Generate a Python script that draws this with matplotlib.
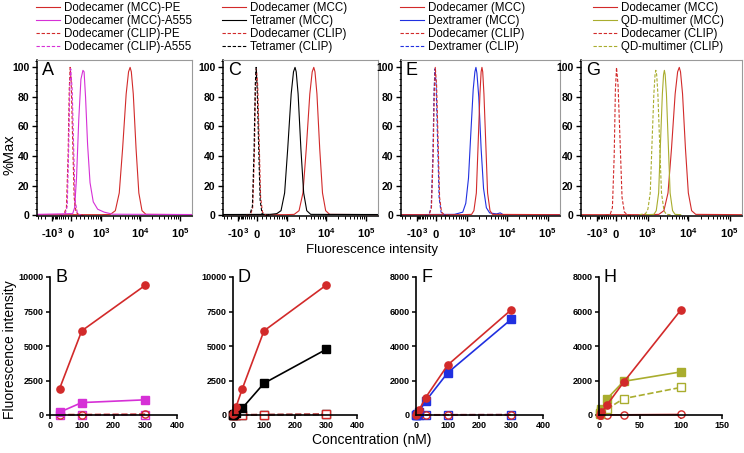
import numpy as np
import matplotlib
matplotlib.use('Agg')
import matplotlib.pyplot as plt
from matplotlib.ticker import FixedLocator, AutoMinorLocator

plt.rcParams['font.family'] = ['Liberation Sans', 'DejaVu Sans']
plt.rcParams['mathtext.fontset'] = 'custom'
plt.rcParams['mathtext.rm'] = 'Liberation Sans'
plt.rcParams['mathtext.bf'] = 'Liberation Sans:bold'

RED = '#d22a2a'
MAG = '#d630d6'
BLUE = '#2030e0'
OLIVE = '#a9ad2e'
BLACK = '#000000'

# ---------------- histogram data (fluorescence, %Max) ----------------
XLO, XHI = -4560, 200000

# A
a_pe_mcc_x = [XLO, 1000, 1740, 2320, 2920, 3550, 4370, 5020, 5500, 5900, 6610, 7770, 9130, 10970, 13800, XHI]
a_pe_mcc_y = [0.3, 0.3, 0.5, 3, 15, 45, 82, 97, 100, 97, 82, 45, 15, 3, 0.5, 0.3]
a_a555_mcc_x = [XLO, 40, 80, 120, 170, 220, 270, 300, 340, 400, 480, 600, 800, 1200, 2000, XHI]
a_a555_mcc_y = [0.5, 1, 5, 25, 65, 92, 98, 97, 80, 48, 22, 9, 4, 2, 0.6, 0.4]
a_pe_clip_x = [-400, -250, -150, -90, -50, -20, 10, 40, 70, 110, 180, 300]
a_pe_clip_y = [0, 0.5, 5, 40, 85, 100, 90, 50, 12, 2, 0, 0]
a_a555_clip_x = [-400, -200, -120, -70, -30, 0, 30, 60, 90, 140, 220, 300]
a_a555_clip_y = [0, 0.5, 6, 45, 88, 99, 85, 45, 10, 1, 0, 0]

# C
c_dod_mcc_x = [XLO, 900, 1520, 2030, 2550, 3100, 3810, 4380, 4800, 5150, 5770, 6780, 7970, 9580, 12060, XHI]
c_dod_mcc_y = [0.3, 0.3, 0.5, 3, 15, 45, 82, 97, 100, 97, 82, 45, 15, 3, 0.5, 0.3]
c_tet_mcc_x = [XLO, 300, 506, 675, 850, 1030, 1270, 1460, 1600, 1715, 1920, 2260, 2660, 3190, 4020, XHI]
c_tet_mcc_y = [0.4, 0.5, 1, 3, 15, 45, 82, 97, 100, 97, 82, 45, 15, 3, 0.5, 0.4]
c_dod_clip_x = [-400, -220, -140, -80, -40, -10, 20, 50, 80, 120, 190, 300]
c_dod_clip_y = [0, 0.5, 5, 40, 85, 99, 88, 50, 12, 2, 0, 0]
c_tet_clip_x = [-400, -250, -150, -90, -50, -20, 10, 40, 70, 110, 180, 300]
c_tet_clip_y = [0, 0.5, 6, 45, 88, 100, 85, 45, 10, 1, 0, 0]

# E
e_dod_mcc_x = [XLO, 800, 1320, 1510, 1740, 1910, 2140, 2290, 2400, 2510, 2690, 3020, 3310, 3800, 4370, XHI]
e_dod_mcc_y = [0.3, 0.3, 0.5, 3, 15, 45, 82, 97, 100, 97, 82, 45, 15, 3, 0.5, 0.3]
e_dex_mcc_x = [XLO, 450, 777, 935, 1100, 1260, 1450, 1600, 1700, 1800, 2000, 2290, 2630, 3090, 3720, 5500, 6800, 8000, XHI]
e_dex_mcc_y = [0.3, 0.5, 2, 8, 25, 55, 85, 97, 100, 96, 80, 45, 18, 5, 1.5, 0.8, 1.5, 0.3, 0.3]
e_dod_clip_x = [-400, -220, -140, -80, -40, -10, 20, 50, 80, 120, 190, 300]
e_dod_clip_y = [0, 0.5, 5, 40, 85, 100, 88, 50, 12, 2, 0, 0]
e_dex_clip_x = [-400, -230, -150, -90, -50, -20, 10, 40, 70, 110, 180, 300]
e_dex_clip_y = [0, 0.5, 5, 40, 85, 99, 88, 50, 12, 2, 0, 0]

# G
g_dod_mcc_x = [XLO, 1100, 1900, 2530, 3190, 3880, 4760, 5470, 6000, 6430, 7210, 8480, 9960, 11970, 15070, XHI]
g_dod_mcc_y = [0.3, 0.3, 0.5, 3, 15, 45, 82, 97, 100, 97, 82, 45, 15, 3, 0.5, 0.3]
g_qd_mcc_x = [900, 1430, 1640, 1880, 2060, 2320, 2480, 2600, 2720, 2920, 3270, 3590, 4120, 4730, 6500]
g_qd_mcc_y = [0.3, 0.5, 3, 15, 45, 82, 95, 98, 95, 82, 45, 15, 3, 0.5, 0.3]
g_dod_clip_x = [-400, -200, -120, -60, -20, 10, 40, 80, 120, 170, 250, 400]
g_dod_clip_y = [0, 0.5, 5, 40, 85, 100, 88, 50, 12, 2, 0, 0]
g_qd_clip_x = [600, 880, 1010, 1160, 1270, 1430, 1530, 1600, 1680, 1800, 2010, 2210, 2540, 2910, 3800]
g_qd_clip_y = [0.3, 1, 4, 15, 45, 82, 95, 98, 95, 82, 45, 15, 3, 0.5, 0.3]

hist_xticks = [-1000, 0, 1000, 10000, 100000]
hist_xticklabels = [r'-10$^\mathbf{3}$', '0', r'10$^\mathbf{3}$',
                    r'10$^\mathbf{4}$', r'10$^\mathbf{5}$']

# ---------------- titration data (nM, fluorescence) ----------------
b_conc = [30, 100, 300]
b_pe_mcc = [1900, 6100, 9400]
b_a555_mcc = [200, 900, 1100]
b_pe_clip = [30, 30, 60]
b_a555_clip = [10, 10, 20]

conc = [1, 3, 10, 30, 100, 300]
d_dod_mcc = [40, 150, 600, 1900, 6100, 9400]
d_tet_mcc = [10, 40, 150, 500, 2300, 4750]
d_dod_clip = [0, 0, 10, 20, 30, 60]
d_tet_clip = [0, 0, 5, 10, 20, 40]

f_dod_mcc = [20, 100, 300, 1000, 2900, 6100]
f_dex_mcc = [10, 50, 200, 800, 2450, 5550]
f_dod_clip = [0, 0, 0, 10, 15, 20]
f_dex_clip = [0, 0, 0, 5, 10, 15]

h_conc = [1, 3, 10, 30, 100]
h_dod_mcc = [20, 150, 600, 1900, 6100]
h_qd_mcc = [100, 350, 950, 1950, 2500]
h_dod_clip = [0, 0, 10, 10, 30]
h_qd_clip = [80, 250, 350, 950, 1600]

# ---------------- scale ----------------
CW = 350.0
NEG = 0.6


def fwd(x):
    x = np.asarray(x, dtype=float)
    y = np.arcsinh(x / CW)
    return np.where(x < 0, y * NEG, y)


def inv(y):
    y = np.asarray(y, dtype=float)
    return np.where(y < 0, CW * np.sinh(y / NEG), CW * np.sinh(y))


minor = []
for dec in [100, 1000, 10000, 100000]:
    for m in range(2, 10):
        v = m * dec
        if v < XHI:
            minor.append(v)
for v in [100, 200, 300, 400, 500, 600, 700, 800, 900, 2000, 3000, 4000]:
    minor.append(-v)
minor.append(100)

W, H = 744.0, 453.0


def fig_rect(x0, x1, ytop, ybot):
    return [x0 / W, 1 - ybot / H, (x1 - x0) / W, (ybot - ytop) / H]


fig = plt.figure(figsize=(7.44, 4.53), dpi=100)

hist_boxes = [(37, 192), (223, 378), (401, 560), (581, 742)]
hist_letters = ['A', 'C', 'E', 'G']


def hist_axes(i):
    x0, x1 = hist_boxes[i]
    ax = fig.add_axes(fig_rect(x0, x1, 60, 216))
    ax.set_xscale('function', functions=(fwd, inv))
    ax.set_xlim(XLO, XHI)
    ax.set_ylim(-0.6, 105)
    ax.xaxis.set_major_locator(FixedLocator(hist_xticks))
    ax.set_xticklabels(hist_xticklabels, fontweight='bold')
    for lbl in ax.get_xticklabels():
        lbl.set_verticalalignment('baseline')
    ax.xaxis.set_minor_locator(FixedLocator(minor))
    ax.set_yticks([0, 20, 40, 60, 80, 100])
    ax.set_yticklabels(['0', '20', '40', '60', '80', '100'], fontweight='bold')
    ax.yaxis.set_minor_locator(AutoMinorLocator(5))
    ax.tick_params(axis='both', which='major', direction='out', length=3.5, width=1,
                   labelsize=7.5, pad=2)
    ax.tick_params(axis='x', which='major', pad=12.5, labelsize=8)
    ax.tick_params(axis='both', which='minor', direction='out', length=1.8, width=0.7)
    for s in ['top', 'right']:
        ax.spines[s].set_color('#9a9a9a')
        ax.spines[s].set_linewidth(0.8)
    for s in ['left', 'bottom']:
        ax.spines[s].set_linewidth(1.1)
    ax.text(0.03, 0.935, hist_letters[i], transform=ax.transAxes, fontsize=13,
            ha='left', va='center')
    return ax


lw = 0.8
dash = (0, (3, 1.6))

# A
ax = hist_axes(0)
l1, = ax.plot(a_pe_mcc_x, a_pe_mcc_y, color=RED, lw=lw, label='Dodecamer (MCC)-PE')
l2, = ax.plot(a_a555_mcc_x, a_a555_mcc_y, color=MAG, lw=lw, label='Dodecamer (MCC)-A555')
l3, = ax.plot(a_pe_clip_x, a_pe_clip_y, color=RED, lw=lw, ls=dash, label='Dodecamer (CLIP)-PE')
l4, = ax.plot(a_a555_clip_x, a_a555_clip_y, color=MAG, lw=lw, ls=dash, label='Dodecamer (CLIP)-A555')
legA = [l1, l2, l3, l4]

# C
ax = hist_axes(1)
l1, = ax.plot(c_dod_mcc_x, c_dod_mcc_y, color=RED, lw=lw, label='Dodecamer (MCC)')
l2, = ax.plot(c_tet_mcc_x, c_tet_mcc_y, color=BLACK, lw=lw, label='Tetramer (MCC)')
l3, = ax.plot(c_dod_clip_x, c_dod_clip_y, color=RED, lw=lw, ls=dash, label='Dodecamer (CLIP)')
l4, = ax.plot(c_tet_clip_x, c_tet_clip_y, color=BLACK, lw=lw, ls=dash, label='Tetramer (CLIP)')
legC = [l1, l2, l3, l4]

# E
ax = hist_axes(2)
l2, = ax.plot(e_dex_mcc_x, e_dex_mcc_y, color=BLUE, lw=lw, label='Dextramer (MCC)')
l1, = ax.plot(e_dod_mcc_x, e_dod_mcc_y, color=RED, lw=lw, label='Dodecamer (MCC)')
l4, = ax.plot(e_dex_clip_x, e_dex_clip_y, color=BLUE, lw=lw, ls=dash, label='Dextramer (CLIP)')
l3, = ax.plot(e_dod_clip_x, e_dod_clip_y, color=RED, lw=lw, ls=dash, label='Dodecamer (CLIP)')
legE = [l1, l2, l3, l4]

# G
ax = hist_axes(3)
l1, = ax.plot(g_dod_mcc_x, g_dod_mcc_y, color=RED, lw=lw, label='Dodecamer (MCC)')
l2, = ax.plot(g_qd_mcc_x, g_qd_mcc_y, color=OLIVE, lw=lw, label='QD-multimer (MCC)')
l3, = ax.plot(g_dod_clip_x, g_dod_clip_y, color=RED, lw=lw, ls=dash, label='Dodecamer (CLIP)')
l4, = ax.plot(g_qd_clip_x, g_qd_clip_y, color=OLIVE, lw=lw, ls=dash, label='QD-multimer (CLIP)')
legG = [l1, l2, l3, l4]

leg_x = [36, 222, 400, 593]
for hs, lx in zip([legA, legC, legE, legG], leg_x):
    fig.legend(handles=hs, loc='upper left', bbox_to_anchor=(lx / W, 1 - 2 / H),
               frameon=False, fontsize=8.3, borderpad=0, borderaxespad=0,
               handlelength=2.1, handletextpad=0.3, labelspacing=0.08)

fig.text(10 / W, 1 - 155 / H, '%Max', rotation=90, ha='center', va='center', fontsize=10.5)
fig.text(372 / W, 1 - 250 / H, 'Fluorescence intensity', ha='center', va='center', fontsize=9.5)

# ---------------- titration panels ----------------
bot_boxes = [(50, 177), (233, 357), (416, 543), (599, 722)]


def bot_axes(i, xmax, xt, ymax, yt, letter):
    x0, x1 = bot_boxes[i]
    ax = fig.add_axes(fig_rect(x0, x1, 277, 415))
    ax.set_xlim(0, xmax)
    ax.set_ylim(0, ymax)
    ax.set_xticks(xt)
    ax.set_xticklabels([str(v) for v in xt], fontweight='bold')
    ax.set_yticks(yt)
    ax.set_yticklabels([str(v) for v in yt], fontweight='bold')
    ax.tick_params(direction='out', length=3, width=1.1, labelsize=6.5, pad=1.5)
    ax.spines['top'].set_visible(False)
    ax.spines['right'].set_visible(False)
    for s in ['left', 'bottom']:
        ax.spines[s].set_linewidth(1.2)
    ax.text(0.04, 1.0, letter, transform=ax.transAxes, fontsize=13, ha='left', va='center')
    return ax


ms = 5.2
mlw = 1.2

ax = bot_axes(0, 400, [0, 100, 200, 300, 400], 10000, [0, 2500, 5000, 7500, 10000], 'B')
ax.plot(b_conc, b_a555_clip, color=MAG, lw=mlw, ls='--', marker='s', ms=ms, mfc='white', clip_on=False)
ax.plot(b_conc, b_pe_clip, color=RED, lw=mlw, ls='--', marker='o', ms=ms, mfc='none', clip_on=False)
ax.plot(b_conc, b_a555_mcc, color=MAG, lw=mlw, marker='s', ms=ms, clip_on=False)
ax.plot(b_conc, b_pe_mcc, color=RED, lw=mlw, marker='o', ms=ms, clip_on=False)

ax = bot_axes(1, 400, [0, 100, 200, 300, 400], 10000, [0, 2500, 5000, 7500, 10000], 'D')
ax.plot(conc, d_tet_clip, color=BLACK, lw=mlw, ls='--', marker='s', ms=ms, mfc='white', clip_on=False)
ax.plot(conc, d_dod_clip, color=RED, lw=mlw, ls='--', marker='s', ms=ms, mfc='white', clip_on=False)
ax.plot(conc, d_tet_mcc, color=BLACK, lw=mlw, marker='s', ms=ms, clip_on=False)
ax.plot(conc, d_dod_mcc, color=RED, lw=mlw, marker='o', ms=ms, clip_on=False)

ax = bot_axes(2, 400, [0, 100, 200, 300, 400], 8000, [0, 2000, 4000, 6000, 8000], 'F')
ax.plot(conc, f_dex_clip, color=BLUE, lw=mlw, ls='--', marker='s', ms=ms, mfc='white', clip_on=False)
ax.plot(conc, f_dod_clip, color=RED, lw=mlw, ls='--', marker='o', ms=ms, mfc='none', clip_on=False)
ax.plot(conc, f_dex_mcc, color=BLUE, lw=mlw, marker='s', ms=ms, clip_on=False)
ax.plot(conc, f_dod_mcc, color=RED, lw=mlw, marker='o', ms=ms, clip_on=False)

ax = bot_axes(3, 150, [0, 50, 100, 150], 8000, [0, 2000, 4000, 6000, 8000], 'H')
ax.plot(h_conc, h_dod_clip, color=RED, lw=mlw, marker='o', ms=ms, mfc='white', clip_on=False)
ax.plot(h_conc, h_qd_clip, color=OLIVE, lw=mlw, ls='--', marker='s', ms=ms, mfc='white', clip_on=False)
ax.plot(h_conc, h_qd_mcc, color=OLIVE, lw=mlw, marker='s', ms=ms, clip_on=False)
ax.plot(h_conc, h_dod_mcc, color=RED, lw=mlw, marker='o', ms=ms, clip_on=False)

fig.text(10 / W, 1 - 350 / H, 'Fluorescence intensity', rotation=90, ha='center', va='center',
         fontsize=10)
fig.text(372 / W, 1 - 440 / H, 'Concentration (nM)', ha='center', va='center', fontsize=10)

fig.savefig('out.png', dpi=100)
